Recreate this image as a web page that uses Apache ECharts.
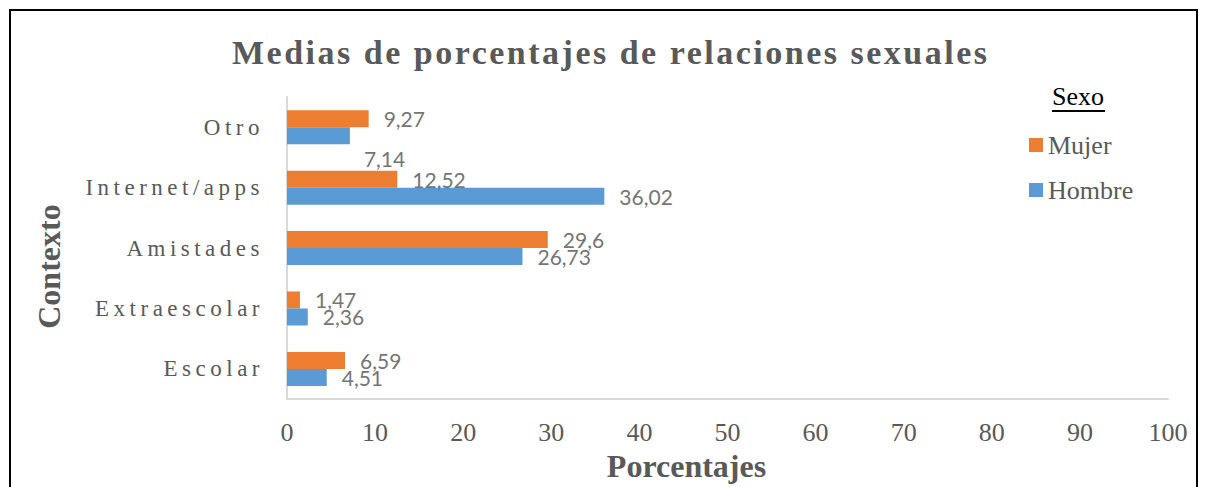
<!DOCTYPE html>
<html>
<head>
<meta charset="utf-8">
<script src="https://cdn.jsdelivr.net/npm/echarts@6/dist/echarts.min.js"></script>
<style>
  html, body { margin: 0; padding: 0; background: #fff; }
  #chart { width: 1206px; height: 487px; }
</style>
</head>
<body>
<div id="chart"></div>
<script>
// datos
var titulo = 'Medias de porcentajes de relaciones sexuales';
var contextos = ['Escolar', 'Extraescolar', 'Amistades', 'Internet/apps', 'Otro'];
var mujer = [6.59, 1.47, 29.6, 12.52, 9.27];
var hombre = [4.51, 2.36, 26.73, 36.02, 7.14];
var ticksX = [0, 10, 20, 30, 40, 50, 60, 70, 80, 90, 100];

var serif = '"Liberation Serif", "Times New Roman", serif';
var gris = '#595959';

// espaciado entre letras (titulo y categorias van espaciados en el original)
var espaciado = {};
contextos.forEach(function(c) { espaciado[c] = 4.5; });
espaciado[titulo] = 2.5;

function coma(v) {
    return String(v).replace('.', ',');
}

var chart = echarts.init(document.getElementById('chart'), null, { renderer: 'svg' });

// el valor 7,14 esta desplazado en el original
var hombreData = hombre.map(function(v, i) {
    if (contextos[i] === 'Otro') {
        return { value: v, label: { offset: [-1, 23] } };
    }
    return v;
});

var etiqueta = {
    show: true, position: 'right', distance: 15,
    fontFamily: 'Lato, "Open Sans", sans-serif', fontSize: 21, color: '#757575',
    formatter: function(p) { return coma(p.value); }
};

var option = {
    animation: false,
    color: ['#ED7D31', '#5B9BD5'],
    title: {
        text: titulo,
        left: 227,
        top: 30,
        textStyle: { fontFamily: serif, fontWeight: 'bold', fontSize: 34, color: gris }
    },
    legend: {
        data: ['Mujer', 'Hombre'],
        orient: 'vertical',
        left: 1024,
        top: 127,
        itemWidth: 14,
        itemHeight: 14,
        itemGap: 19,
        icon: 'rect',
        textStyle: { fontFamily: serif, fontSize: 26, color: gris }
    },
    grid: { left: 287, right: 38, top: 97, bottom: 87 },
    xAxis: {
        type: 'value',
        min: ticksX[0],
        max: ticksX[ticksX.length - 1],
        interval: 10,
        name: 'Porcentajes',
        nameLocation: 'middle',
        nameGap: 47,
        nameTextStyle: { fontFamily: serif, fontWeight: 'bold', fontSize: 32, color: gris, padding: [0, 82, 0, 0] },
        axisLine: { show: true, lineStyle: { color: '#d9d9d9', width: 2 } },
        axisTick: { show: false },
        splitLine: { show: false },
        axisLabel: { fontFamily: serif, fontSize: 26, color: gris, margin: 20 }
    },
    yAxis: {
        type: 'category',
        data: contextos,
        name: 'Contexto',
        nameLocation: 'middle',
        nameGap: 222,
        nameTextStyle: { fontFamily: serif, fontWeight: 'bold', fontSize: 32, color: gris, padding: [0, 37, 0, 0] },
        axisLine: { show: true, lineStyle: { color: '#d9d9d9', width: 2 } },
        axisTick: { show: false },
        axisLabel: { fontFamily: serif, fontSize: 23, color: gris, margin: 23 }
    },
    series: [
        {
            name: 'Mujer',
            type: 'bar',
            data: mujer,
            barWidth: 17,
            barGap: '0%',
            label: etiqueta
        },
        {
            name: 'Hombre',
            type: 'bar',
            data: hombreData,
            barWidth: 17,
            barGap: '0%',
            label: etiqueta
        }
    ],
    graphic: [
        {
            type: 'rect',
            shape: { x: 10, y: 10, width: 1187, height: 500 },
            style: { fill: null, stroke: '#000', lineWidth: 2 },
            silent: true
        },
        {
            type: 'text',
            left: 1052,
            top: 83,
            style: { text: 'Sexo', fontFamily: serif, fontSize: 26, fill: '#000' }
        },
        {
            type: 'rect',
            shape: { x: 1052, y: 110, width: 53, height: 2 },
            style: { fill: '#000' }
        }
    ]
};

chart.setOption(option);

// aplicar el espaciado a los textos del svg
function espaciar() {
    var textos = document.querySelectorAll('#chart svg text');
    for (var i = 0; i < textos.length; i++) {
        var ls = espaciado[textos[i].textContent];
        if (ls) textos[i].style.letterSpacing = ls + 'px';
    }
}
espaciar();
chart.on('finished', espaciar);
</script>
</body>
</html>
